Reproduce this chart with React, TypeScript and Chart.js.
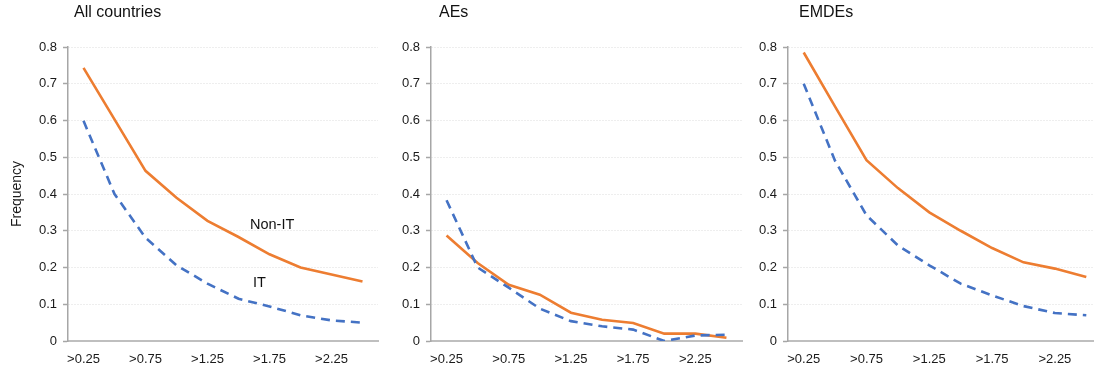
import React, { useEffect, useRef } from "react";
import { Chart, registerables } from "chart.js";

Chart.register(...registerables);

const FONT = "'Liberation Sans', Arial, Helvetica, sans-serif";
Chart.defaults.font.family = FONT;

// Thresholds (x categories)
const categories = [">0.25", ">0.5", ">0.75", ">1", ">1.25", ">1.5", ">1.75", ">2", ">2.25", ">2.5"];

// All countries
const allNonIT = [0.743, 0.603, 0.463, 0.39, 0.327, 0.283, 0.236, 0.2, 0.181, 0.162];
const allIT = [0.599, 0.4, 0.281, 0.206, 0.156, 0.115, 0.094, 0.07, 0.056, 0.05];

// AEs
const aeNonIT = [0.287, 0.212, 0.153, 0.126, 0.077, 0.058, 0.049, 0.02, 0.02, 0.009];
const aeIT = [0.383, 0.2, 0.145, 0.088, 0.054, 0.04, 0.031, 0.0, 0.015, 0.017];

// EMDEs
const emNonIT = [0.785, 0.638, 0.492, 0.416, 0.35, 0.3, 0.253, 0.214, 0.197, 0.174];
const emIT = [0.7, 0.49, 0.342, 0.26, 0.206, 0.156, 0.124, 0.095, 0.076, 0.07];

const panelTitles = ["All countries", "AEs", "EMDEs"];
const seriesNames = ["Non-IT", "IT"];
const yAxisTitle = "Frequency";

const ORANGE = "#ED7D31";
const BLUE = "#4472C4";

type PanelProps = {
  nonIT: number[];
  it: number[];
  left: number;
  width: number;
  axisWidth: number;
  padRight: number;
  yTitle?: string;
  inlineLabels?: boolean;
};

function Panel(props: PanelProps) {
  const ref = useRef<HTMLCanvasElement | null>(null);
  useEffect(() => {
    const canvas = ref.current;
    if (!canvas) return;
    const labelPlugin = {
      id: "inlineSeriesLabels",
      afterDatasetsDraw(chart: any) {
        if (!props.inlineLabels) return;
        const xs = chart.scales.x;
        const ys = chart.scales.y;
        const ctx = chart.ctx;
        ctx.save();
        ctx.font = `14.5px ${FONT}`;
        ctx.fillStyle = "#111";
        ctx.textAlign = "left";
        ctx.textBaseline = "middle";
        ctx.fillText(seriesNames[0], xs.getPixelForValue(5.37), ys.getPixelForValue(0.316));
        ctx.fillText(seriesNames[1], xs.getPixelForValue(5.47), ys.getPixelForValue(0.157));
        ctx.restore();
      },
    };
    const chart = new Chart(canvas, {
      type: "line",
      data: {
        labels: categories,
        datasets: [
          {
            label: seriesNames[1],
            data: props.it,
            borderColor: BLUE,
            borderWidth: 2.6,
            borderDash: [9, 6],
            pointRadius: 0,
            tension: 0,
            fill: false,
          },
          {
            label: seriesNames[0],
            data: props.nonIT,
            borderColor: ORANGE,
            borderWidth: 2.6,
            pointRadius: 0,
            tension: 0,
            fill: false,
          },
        ],
      },
      options: {
        responsive: false,
        animation: false,
        layout: { padding: { top: 47, right: props.padRight, left: 0, bottom: 0 } },
        plugins: {
          legend: { display: false },
          title: { display: false },
          tooltip: { enabled: false },
        },
        scales: {
          x: {
            type: "category",
            offset: true,
            grid: { display: false },
            border: { display: true, color: "#bfbfbf", width: 2 },
            ticks: {
              autoSkip: false,
              maxRotation: 0,
              minRotation: 0,
              padding: 3,
              color: "#1a1a1a",
              font: { size: 13 },
              callback: (_v: any, i: number) => (i % 2 === 0 ? categories[i] : ""),
            },
            afterFit: (s: any) => {
              s.height = 25;
            },
          },
          y: {
            min: 0,
            max: 0.8,
            ticks: {
              stepSize: 0.1,
              padding: 6,
              color: "#1a1a1a",
              font: { size: 13 },
              callback: (v: any) => (Number(v) === 0 ? "0" : Number(v).toFixed(1)),
            },
            grid: {
              color: (c: any) => (c.tick && c.tick.value === 0 ? "rgba(0,0,0,0)" : "#dcdcdc"),
              lineWidth: 1,
              drawTicks: true,
              tickLength: 5,
              tickColor: "#a6a6a6",
              tickWidth: 1.5,
            },
            border: { display: true, color: "#a6a6a6", width: 1.5, dash: [1, 2] },
            title: props.yTitle
              ? {
                  display: true,
                  text: props.yTitle,
                  color: "#1a1a1a",
                  font: { size: 14 },
                  padding: { top: 8.6, bottom: 0 },
                }
              : { display: false },
            afterFit: (s: any) => {
              s.width = props.axisWidth;
            },
          },
        },
      },
      plugins: [labelPlugin],
    } as any);
    return () => chart.destroy();
  }, []);
  return (
    <canvas
      ref={ref}
      width={props.width}
      height={366}
      style={{ position: "absolute", left: props.left, top: 0, width: props.width, height: 366 }}
    />
  );
}

const titleStyle = (left: number): React.CSSProperties => ({
  position: "absolute",
  left,
  top: 4,
  fontFamily: FONT,
  fontSize: 16,
  lineHeight: "16px",
  color: "#111",
  whiteSpace: "nowrap",
});

export default function App() {
  return (
    <div
      style={{
        position: "absolute",
        left: 0,
        top: 0,
        width: 1094,
        height: 366,
        overflow: "hidden",
        background: "#fff",
      }}
    >
      <Panel nonIT={allNonIT} it={allIT} left={0} width={380} axisWidth={68} padRight={2} yTitle={yAxisTitle} inlineLabels />
      <Panel nonIT={aeNonIT} it={aeIT} left={380} width={364} axisWidth={51} padRight={2} />
      <Panel nonIT={emNonIT} it={emIT} left={744} width={362} axisWidth={44} padRight={4} />
      <div style={titleStyle(74)}>{panelTitles[0]}</div>
      <div style={titleStyle(439)}>{panelTitles[1]}</div>
      <div style={titleStyle(799)}>{panelTitles[2]}</div>
    </div>
  );
}
